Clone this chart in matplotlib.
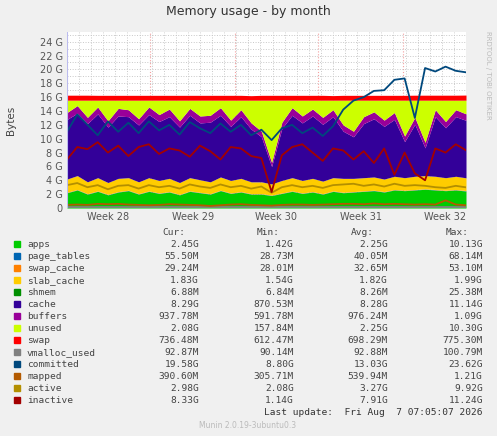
import numpy as np
import matplotlib
matplotlib.use('Agg')
import matplotlib.pyplot as plt

# values in G, 40 samples over the month
apps = [2.2, 2.6, 2.0, 2.4, 1.9, 2.3, 2.5, 2.0, 2.4, 2.1, 2.3, 1.9, 2.4, 2.2, 2.0, 2.5, 2.1, 2.3, 2.0, 2.0,
        1.8, 2.1, 2.4, 2.1, 2.3, 2.0, 2.4, 2.2, 2.3, 2.4, 2.5, 2.3, 2.6, 2.5, 2.6, 2.7, 2.6, 2.5, 2.6, 2.45]
page_tables = [0.04] * 40
swap_cache = [0.03] * 40
slab_cache = [1.9, 2.0, 1.7, 1.9, 1.7, 1.9, 1.8, 1.7, 1.9, 1.8, 1.9, 1.7, 1.9, 1.8, 1.7, 1.9, 1.8, 1.9, 1.7, 1.7,
              1.6, 1.8, 1.9, 1.8, 1.9, 1.8, 1.9, 2.0, 1.9, 1.9, 1.9, 1.8, 1.9, 1.8, 1.9, 1.9, 1.9, 1.8, 1.9, 1.83]
shmem = [0.01] * 40
cache = [8.6, 9.0, 8.4, 9.2, 8.0, 9.0, 8.8, 8.2, 9.1, 8.5, 8.9, 8.0, 9.0, 8.2, 8.6, 8.9, 7.8, 8.9, 7.6, 6.5,
         2.5, 7.5, 9.0, 8.3, 9.0, 8.2, 8.8, 6.8, 6.0, 7.8, 8.4, 7.6, 8.2, 5.2, 7.5, 4.0, 8.6, 7.2, 8.6, 8.29]
buffers = [1.0, 1.1, 0.9, 1.0, 0.9, 1.1, 1.0, 0.9, 1.1, 1.0, 1.1, 0.9, 1.0, 1.0, 1.0, 1.1, 0.9, 1.0, 0.9, 0.8,
           0.6, 0.9, 1.1, 1.0, 1.0, 1.0, 1.0, 0.9, 0.8, 1.0, 1.0, 0.9, 1.0, 0.8, 1.0, 0.8, 1.0, 0.9, 1.0, 0.94]
unused = [1.78, 0.78, 2.48, 0.98, 2.98, 1.18, 1.38, 2.68, 0.98, 2.08, 1.28, 2.98, 1.18, 2.28, 2.18, 1.08, 2.88, 1.38,
          3.28, 4.48, 8.98, 3.18, 1.08, 2.28, 1.28, 2.48, 1.38, 3.58, 4.48, 2.38, 1.68, 2.88, 1.78, 5.18, 2.48, 6.08,
          1.38, 3.08, 1.38, 1.97]
swap = [0.72, 0.72, 0.72, 0.7, 0.7, 0.7, 0.7, 0.7, 0.7, 0.7, 0.7, 0.7, 0.7, 0.7, 0.7, 0.7, 0.7, 0.7, 0.65, 0.7,
        0.7, 0.7, 0.7, 0.7, 0.7, 0.7, 0.66, 0.7, 0.7, 0.7, 0.7, 0.7, 0.7, 0.7, 0.72, 0.72, 0.72, 0.72, 0.72, 0.74]
vmalloc_used = [0.09] * 40
committed = [11.0, 13.5, 12.0, 10.5, 12.5, 11.0, 12.3, 10.8, 12.5, 11.2, 12.0, 10.6, 12.4, 11.5, 10.8, 12.2, 11.0,
             12.0, 10.5, 11.3, 9.8, 11.5, 12.0, 10.8, 11.6, 10.4, 11.8, 14.2, 15.5, 16.0, 16.9, 17.0, 18.5, 18.7,
             13.0, 20.2, 19.7, 20.4, 19.8, 19.58]
mapped = [0.45, 0.5, 0.45, 0.6, 0.55, 0.6, 0.5, 0.45, 0.4, 0.45, 0.55, 0.5, 0.45, 0.4, 0.3, 0.4, 0.5, 0.55, 0.45,
          0.4, 0.35, 0.45, 0.5, 0.5, 0.45, 0.5, 0.55, 0.6, 0.6, 0.55, 0.65, 0.55, 0.6, 0.55, 0.5, 0.55, 0.5, 1.1,
          0.5, 0.39]
active = [3.3, 3.6, 3.0, 3.3, 2.7, 3.2, 3.3, 2.8, 3.3, 3.0, 3.2, 2.8, 3.4, 3.1, 2.9, 3.4, 3.0, 3.2, 2.8, 3.1, 2.2,
          3.0, 3.3, 3.0, 3.2, 2.9, 3.3, 3.4, 3.5, 3.2, 3.4, 3.1, 3.5, 3.2, 3.3, 3.2, 3.0, 2.9, 3.2, 2.98]
inactive = [7.0, 8.8, 8.5, 9.5, 8.0, 9.0, 7.5, 8.8, 9.2, 7.8, 8.6, 8.3, 7.4, 9.0, 8.2, 7.0, 8.8, 8.6, 7.5, 7.2,
            2.3, 7.6, 8.8, 9.2, 8.0, 6.8, 8.6, 8.3, 7.0, 8.2, 6.5, 8.6, 4.8, 8.0, 5.0, 4.0, 8.6, 8.0, 9.2, 8.33]

week_labels = ['Week 28', 'Week 29', 'Week 30', 'Week 31', 'Week 32']
week_pos = [3.4, 10.4, 17.3, 24.3, 31.3]
week_bounds = [6.86, 13.9, 20.76, 27.8]

legend = [
    ('apps', '#00CC00', '2.45G', '1.42G', '2.25G', '10.13G'),
    ('page_tables', '#0066B3', '55.50M', '28.73M', '40.05M', '68.14M'),
    ('swap_cache', '#FF8000', '29.24M', '28.01M', '32.65M', '53.10M'),
    ('slab_cache', '#FFCC00', '1.83G', '1.54G', '1.82G', '1.99G'),
    ('shmem', '#008F00', '6.88M', '6.84M', '8.26M', '25.38M'),
    ('cache', '#330099', '8.29G', '870.53M', '8.28G', '11.14G'),
    ('buffers', '#990099', '937.78M', '591.78M', '976.24M', '1.09G'),
    ('unused', '#CCFF00', '2.08G', '157.84M', '2.25G', '10.30G'),
    ('swap', '#FF0000', '736.48M', '612.47M', '698.29M', '775.30M'),
    ('vmalloc_used', '#808080', '92.87M', '90.14M', '92.88M', '100.79M'),
    ('committed', '#00487D', '19.58G', '8.80G', '13.03G', '23.62G'),
    ('mapped', '#B35A00', '390.60M', '305.71M', '539.94M', '1.21G'),
    ('active', '#B38F00', '2.98G', '2.08G', '3.27G', '9.92G'),
    ('inactive', '#A30000', '8.33G', '1.14G', '7.91G', '11.24G'),
]

W, H = 497, 436
fig = plt.figure(figsize=(W / 100, H / 100), dpi=100, facecolor='#F0F0F0')
ax = fig.add_axes([67 / W, (H - 208) / H, 399 / W, (208 - 32) / H])
ax.set_facecolor('white')

x = np.linspace(0, 33, len(apps))
stack = [apps, page_tables, swap_cache, slab_cache, shmem, cache, buffers, unused, swap]
colors = [c[1] for c in legend[:9]]
base = np.zeros(len(x))
for vals, col in zip(stack, colors):
    top = base + np.array(vals)
    ax.fill_between(x, base, top, color=col, lw=0, zorder=2)
    base = top

for vals, col in [(vmalloc_used, '#808080'), (committed, '#00487D'), (mapped, '#B35A00'),
                  (active, '#B38F00'), (inactive, '#A30000')]:
    ax.plot(x, vals, color=col, lw=1.3, zorder=3)

ax.set_xlim(0, 33)
ax.set_ylim(0, 25.4)
ax.set_yticks(range(0, 25, 2))
ax.set_yticklabels(['0'] + [f'{v} G' for v in range(2, 25, 2)])
ax.set_yticks(range(0, 26), minor=True)
ax.set_xticks(week_pos)
ax.set_xticklabels(week_labels)
ax.set_xticks(range(0, 34), minor=True)
ax.tick_params(labelsize=7, colors='#555555', length=0, which='both', pad=3)
ax.grid(which='both', color='#C8C8C8', ls=':', lw=0.7, zorder=1)
ax.grid(axis='x', which='major', visible=False)
for b in week_bounds:
    ax.axvline(b, color='#F4A0A0', ls=':', lw=0.8, zorder=1)
for s in ax.spines.values():
    s.set_visible(False)
ax.axhline(0, color='#BBBBEE', lw=0.8, zorder=4)
ax.axvline(0, color='#BBBBEE', lw=0.8, zorder=4)

fig.text(248 / W, 1 - 12 / H, 'Memory usage - by month', ha='center', va='center', fontsize=9, color='#333333')
fig.text(11 / W, 1 - 120 / H, 'Bytes', rotation=90, ha='center', va='center', fontsize=7.5, color='#444444')
fig.text(488 / W, 1 - 75 / H, 'RRDTOOL / TOBI OETIKER', rotation=270, ha='center', va='center',
         fontsize=5, color='#BBBBBB')

mono = 'DejaVu Sans Mono'
fs = 6.8
tc = '#444444'
cols = [199, 294, 388, 483]
for cx, h in zip(cols, ['Cur:', 'Min:', 'Avg:', 'Max:']):
    fig.text((cx - 14) / W, 1 - 232 / H, h, ha='right', va='center', family=mono, fontsize=fs, color=tc)
for i, (name, col, *vals) in enumerate(legend):
    y = 1 - (244.5 + 12 * i) / H
    fig.patches.append(plt.Rectangle((14 / W, y - 2.5 / H), 6 / W, 6 / H, color=col,
                                     transform=fig.transFigure, figure=fig))
    fig.text(27 / W, y, name, ha='left', va='center', family=mono, fontsize=fs, color=tc)
    for cx, v in zip(cols, vals):
        fig.text(cx / W, y, v, ha='right', va='center', family=mono, fontsize=fs, color=tc)
fig.text(483 / W, 1 - 412 / H, 'Last update:  Fri Aug  7 07:05:07 2026', ha='right', va='center',
         family=mono, fontsize=fs, color='#333333')
fig.text(248 / W, 1 - 425.5 / H, 'Munin 2.0.19-3ubuntu0.3', ha='center', va='center',
         fontsize=5.5, color='#BBBBBB')

fig.savefig('out.png', dpi=100, facecolor=fig.get_facecolor())
